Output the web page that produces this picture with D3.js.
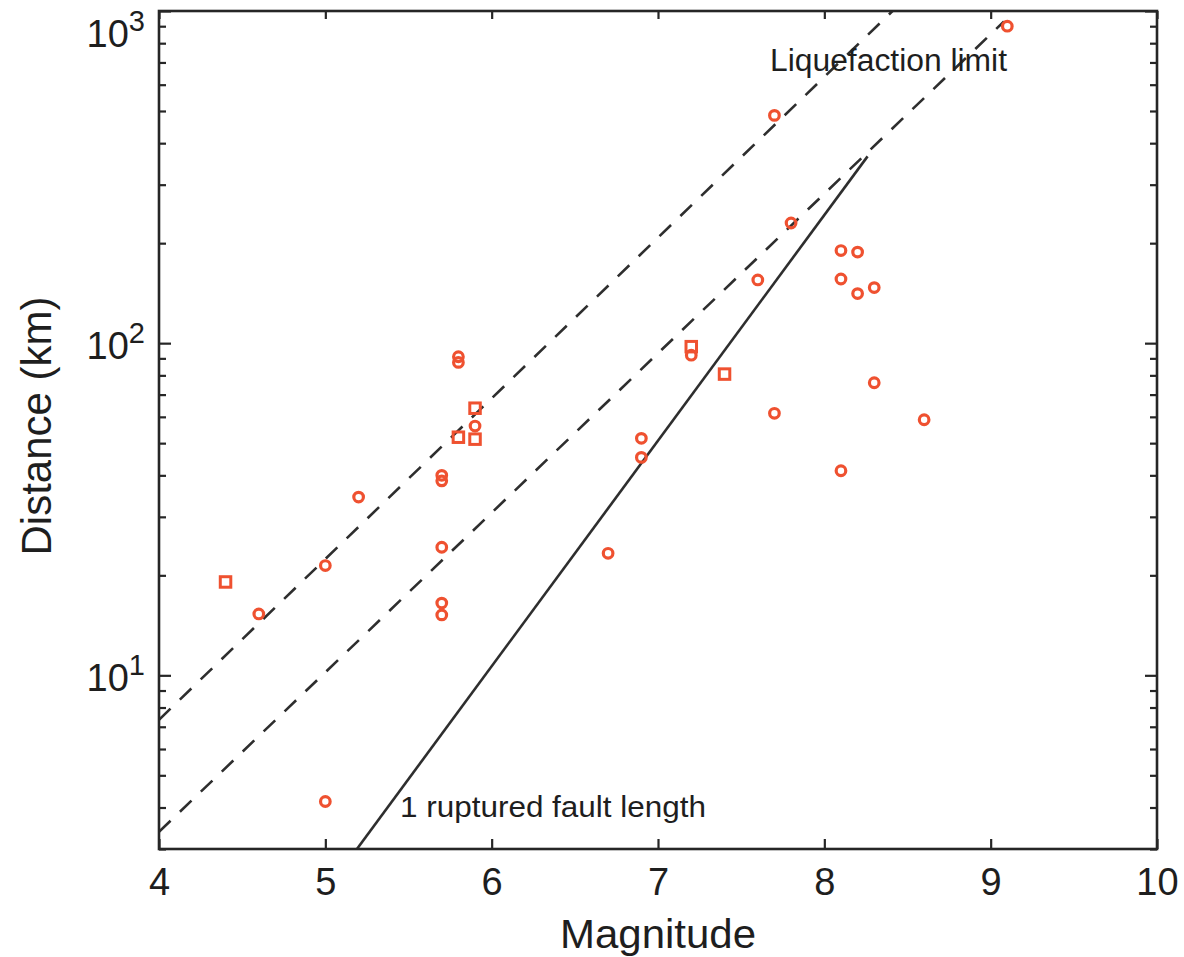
<!DOCTYPE html>
<html>
<head>
<meta charset="utf-8">
<script src="https://cdn.jsdelivr.net/npm/d3@7"></script>
<style>
  html, body { margin: 0; padding: 0; background: #ffffff; }
  svg { display: block; }
  text { font-family: "Liberation Sans", Arial, Helvetica, sans-serif; fill: #1e1e1e; }
</style>
</head>
<body>
<svg id="chart" width="1184" height="957"></svg>
<script>
// Liquefaction observations: epicentral distance (km) against magnitude
const circleMag  = [9.1, 7.7, 7.8, 7.6, 8.1, 8.2, 8.1, 8.2, 8.3, 8.3, 7.7, 8.6, 8.1, 7.2, 6.9, 6.9, 6.7, 5.8, 5.8, 5.9, 5.7, 5.7, 5.7, 5.7, 5.7, 5.2, 5.0, 4.6, 5.0];
const circleDist = [900, 485, 230, 155, 190, 188, 156, 141, 147, 76, 61.5, 58.8, 41.3, 92, 51.7, 45.3, 23.3, 91, 87.5, 56.3, 40, 38.5, 24.3, 16.5, 15.2, 34.4, 21.4, 15.3, 4.17];

const squareMag  = [4.4, 5.8, 5.9, 5.9, 7.2, 7.4];
const squareDist = [19.1, 52.1, 63.7, 51.4, 97.6, 80.7];

// Reference curves as [magnitude, distance] end points
const liqUpper  = [[4.0, 7.35], [8.41, 1000]];
const liqLower  = [[4.0, 3.38], [9.08, 930]];
const faultLine = [[5.19, 3.0], [8.26, 365]];

const xTicks = [4, 5, 6, 7, 8, 9, 10];
const yMajor = [10, 100, 1000];
const yMinor = [3, 4, 5, 6, 7, 8, 9, 20, 30, 40, 50, 60, 70, 80, 90, 200, 300, 400, 500, 600, 700, 800, 900];

const labels = {
  x: "Magnitude",
  y: "Distance (km)",
  liq: "Liquefaction limit",
  fault: "1 ruptured fault length"
};

const plotL = 159, plotR = 1157, plotT = 11, plotB = 849;
const red = "#ef5130";
const ink = "#262626";

const svg = d3.select("#chart");

const x = d3.scaleLinear().domain([4, 10]).range([plotL, plotR]);
const y = d3.scaleLog().domain([3, 1000]).range([plotB, plotT]);

svg.append("defs").append("clipPath").attr("id", "plotClip")
  .append("rect").attr("x", plotL).attr("y", plotT)
  .attr("width", plotR - plotL).attr("height", plotB - plotT);

// Reference lines
const line = d3.line().x(d => x(d[0])).y(d => y(d[1]));
const lines = svg.append("g").attr("clip-path", "url(#plotClip)");
lines.append("path").datum(liqUpper).attr("d", line)
  .attr("fill", "none").attr("stroke", "#2e2e2e").attr("stroke-width", 2.6)
  .attr("stroke-dasharray", "16,13");
lines.append("path").datum(liqLower).attr("d", line)
  .attr("fill", "none").attr("stroke", "#2e2e2e").attr("stroke-width", 2.6)
  .attr("stroke-dasharray", "16,13");
lines.append("path").datum(faultLine).attr("d", line)
  .attr("fill", "none").attr("stroke", "#2e2e2e").attr("stroke-width", 2.6);

// Observations
const pts = svg.append("g");
pts.selectAll("circle.obs").data(d3.range(circleMag.length)).join("circle")
  .attr("class", "obs")
  .attr("cx", i => x(circleMag[i]))
  .attr("cy", i => y(circleDist[i]))
  .attr("r", 4.8)
  .attr("fill", "none").attr("stroke", red).attr("stroke-width", 3.2);

const sq = 10.5;
pts.selectAll("rect.obs").data(d3.range(squareMag.length)).join("rect")
  .attr("class", "obs")
  .attr("x", i => x(squareMag[i]) - sq / 2)
  .attr("y", i => y(squareDist[i]) - sq / 2)
  .attr("width", sq).attr("height", sq)
  .attr("fill", "none").attr("stroke", red).attr("stroke-width", 3);

// Axes: bottom/top ticks point inward
const xAxisB = d3.axisBottom(x).tickValues(xTicks).tickSize(-10).tickPadding(14).tickFormat(d3.format("d"));
const gxb = svg.append("g").attr("transform", `translate(0,${plotB})`).call(xAxisB);
gxb.select(".domain").remove();
gxb.selectAll(".tick line").attr("stroke", ink).attr("stroke-width", 2.2);
gxb.selectAll(".tick text").attr("font-size", 38).attr("fill", "#1e1e1e")
  .attr("y", 46).attr("dy", 0);

const xAxisT = d3.axisTop(x).tickValues(xTicks).tickSize(-8).tickFormat("");
const gxt = svg.append("g").attr("transform", `translate(0,${plotT})`).call(xAxisT);
gxt.select(".domain").remove();
gxt.selectAll(".tick line").attr("stroke", ink).attr("stroke-width", 2.2);

function yTicks(side, pos) {
  const g = svg.append("g");
  const mk = side === "left" ? d3.axisLeft : d3.axisRight;
  const major = g.append("g").attr("transform", `translate(${pos},0)`)
    .call(mk(y).tickValues(yMajor).tickSize(-12).tickFormat(""));
  major.select(".domain").remove();
  major.selectAll(".tick line").attr("stroke", ink).attr("stroke-width", 2.2);
  const minor = g.append("g").attr("transform", `translate(${pos},0)`)
    .call(mk(y).tickValues(yMinor).tickSize(-7).tickFormat(""));
  minor.select(".domain").remove();
  minor.selectAll(".tick line").attr("stroke", ink).attr("stroke-width", 2.2);
}
yTicks("left", plotL);
yTicks("right", plotR);

// Power-of-ten labels on the distance axis
const ylab = svg.append("g");
yMajor.forEach(v => {
  const ty = Math.max(y(v), 31);
  const t = ylab.append("text")
    .attr("x", 145).attr("y", ty + 16)
    .attr("text-anchor", "end").attr("font-size", 38);
  t.append("tspan").text("10");
  t.append("tspan").attr("font-size", 29).attr("dy", -16).text(Math.round(Math.log10(v)));
});

// Frame
svg.append("rect").attr("x", plotL).attr("y", plotT)
  .attr("width", plotR - plotL).attr("height", plotB - plotT)
  .attr("fill", "none").attr("stroke", ink).attr("stroke-width", 2.6);

// Axis titles
svg.append("text").attr("x", (plotL + plotR) / 2).attr("y", 948)
  .attr("text-anchor", "middle").attr("font-size", 41)
  .attr("textLength", 196).attr("lengthAdjust", "spacingAndGlyphs").text(labels.x);
svg.append("text")
  .attr("transform", `translate(51,${(plotT + plotB) / 2 - 4}) rotate(-90)`)
  .attr("text-anchor", "middle").attr("font-size", 42).text(labels.y);

// Curve annotations
svg.append("text").attr("x", 770).attr("y", 71)
  .attr("font-size", 31).attr("fill", "#262626")
  .attr("textLength", 237).attr("lengthAdjust", "spacingAndGlyphs").text(labels.liq);
svg.append("text").attr("x", 400).attr("y", 817)
  .attr("font-size", 30).attr("fill", "#262626")
  .attr("textLength", 306).attr("lengthAdjust", "spacingAndGlyphs").text(labels.fault);
</script>
</body>
</html>
